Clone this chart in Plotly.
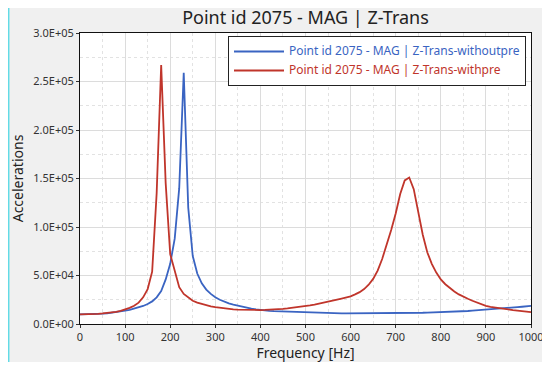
import plotly.graph_objects as go

freq = list(range(0, 1001, 10))

# values in thousands
red_k = [10.0, 10.0, 10.1, 10.3, 10.5, 10.9, 11.3, 11.9, 12.6, 13.6,
         14.9, 16.6, 18.8, 22.0, 27.5, 36.0, 54.0, 135.0, 267.0, 145.0,
         72.0, 54.0, 38.0, 31.0, 27.0, 24.0, 22.0, 20.5, 19.3, 18.2,
         17.3, 16.6, 16.0, 15.5, 15.1, 14.8, 14.6, 14.5, 14.4, 14.4,
         14.4, 14.5, 14.6, 14.8, 15.2, 15.6, 16.1, 16.6, 17.2, 17.8,
         18.5, 19.2, 20.0, 20.9, 21.9, 22.9, 24.0, 25.1, 26.2, 27.3,
         28.5, 30.5, 32.8, 36.0, 40.5, 46.5, 55.0, 67.0, 81.0, 97.0,
         114.0, 134.0, 148.0, 151.0, 139.0, 116.0, 92.0, 74.0, 62.0, 53.0,
         46.0, 41.0, 37.0, 33.5, 30.5, 28.0, 26.0, 24.0, 22.0, 20.2,
         18.7, 17.6, 16.8, 16.1, 15.5, 14.9, 14.3, 13.8, 13.3, 12.8,
         12.3]

blue_k = [10.0, 10.0, 10.1, 10.2, 10.4, 10.7, 11.0, 11.5, 12.1, 12.8,
          13.7, 14.6, 15.7, 17.0, 18.6, 20.6, 23.3, 27.5, 34.0, 46.0,
          62.0, 88.0, 140.0, 259.0, 120.0, 70.0, 52.0, 42.0, 35.5, 31.0,
          27.5, 25.0, 23.0, 21.3, 20.0, 18.8, 17.8, 16.8, 15.9, 15.1,
          14.4, 13.9, 13.5, 13.2, 13.0, 12.8, 12.6, 12.4, 12.2, 12.0,
          11.9, 11.7, 11.5, 11.4, 11.3, 11.2, 11.1, 11.0, 11.0, 10.9,
          10.9, 10.9, 10.9, 10.9, 10.9, 10.9, 10.9, 11.0, 11.0, 11.0,
          11.1, 11.1, 11.2, 11.3, 11.4, 11.5, 11.6, 11.8, 11.9, 12.1,
          12.2, 12.4, 12.6, 12.8, 13.0, 13.2, 13.4, 13.7, 14.0, 14.3,
          14.6, 15.0, 15.4, 15.8, 16.2, 16.6, 17.0, 17.4, 17.8, 18.2,
          18.6]

red = [v * 1000 for v in red_k]
blue = [v * 1000 for v in blue_k]

ytick_vals = [0, 50000, 100000, 150000, 200000, 250000, 300000]
ytick_text = ["0.0E+00", "5.0E+04", "1.0E+05", "1.5E+05", "2.0E+05", "2.5E+05", "3.0E+05"]

name_blue = "Point id 2075 - MAG | Z-Trans-withoutpre"
name_red = "Point id 2075 - MAG | Z-Trans-withpre"
title_text = "Point id 2075 - MAG | Z-Trans"

BLUE = "#3a64c2"
RED = "#c0352b"

fig = go.Figure()
fig.add_trace(go.Scatter(x=freq, y=blue, mode="lines",
                         line=dict(color=BLUE, width=1.8),
                         name=f"<span style='color:{BLUE};font-size:12px'>{name_blue}</span>"))
fig.add_trace(go.Scatter(x=freq, y=red, mode="lines",
                         line=dict(color=RED, width=1.8),
                         name=f"<span style='color:{RED};font-size:12px'>{name_red}</span>"))

# page has an 8px body margin; figure occupies page px 8..544 x 8..362
OFF = 8
W, H = 536, 354
L, R, T, B = 80, 531, 33, 324          # plot area in page px
pw, ph = R - L, B - T

def px2x(p):
    return (p - L) / pw

def px2y(p):
    return (B - p) / ph

fig.update_layout(
    width=W, height=H,
    margin=dict(l=L - OFF, r=W + OFF - R, t=T - OFF, b=H + OFF - B, autoexpand=False),
    paper_bgcolor="#f0f0f0",
    plot_bgcolor="white",
    font=dict(family="Noto Sans", size=11, color="#333333"),
    title=dict(text=title_text, x=px2x(305.5), xref="paper", xanchor="center",
               y=1 - (17.5 - OFF) / H, yanchor="middle", automargin=False,
               font=dict(family="Noto Sans", size=18, color="#222222")),
    showlegend=True,
    legend=dict(x=px2x(526), y=px2y(36), xanchor="right", yanchor="top",
                bgcolor="white", bordercolor="#222222", borderwidth=1,
                font=dict(family="Noto Sans", size=9),
                tracegroupgap=0, itemwidth=50),
    xaxis=dict(range=[0, 1000], dtick=100, tick0=0, automargin=False,
               showline=True, linecolor="#111111", linewidth=1, mirror=True,
               ticks="outside", ticklen=3, tickcolor="#333333",
               showgrid=True, gridcolor="#dcdcdc", gridwidth=1,
               zeroline=False,
               minor=dict(dtick=50, showgrid=True, gridcolor="#e2e2e2",
                          griddash="dot", ticks=""),
               title=dict(text="Frequency [Hz]", standoff=4,
                          font=dict(family="Noto Sans", size=14, color="#222222"))),
    yaxis=dict(range=[0, 300000], tickvals=ytick_vals, ticktext=ytick_text,
               automargin=False,
               showline=True, linecolor="#111111", linewidth=1, mirror=True,
               ticks="outside", ticklen=3, tickcolor="#333333",
               showgrid=True, gridcolor="#dcdcdc", gridwidth=1,
               zeroline=False,
               minor=dict(dtick=25000, tick0=0, showgrid=True, gridcolor="#e2e2e2",
                          griddash="dot", ticks=""),
               title=dict(text="Accelerations", standoff=6,
                          font=dict(family="Noto Sans", size=14, color="#222222"))),
    shapes=[
        dict(type="line", xref="paper", yref="paper", x0=px2x(8.7), x1=px2x(8.7),
             y0=px2y(362), y1=px2y(8), line=dict(color="#62dbe6", width=1.5), layer="above"),
    ],
)

fig.write_html("out.html")
